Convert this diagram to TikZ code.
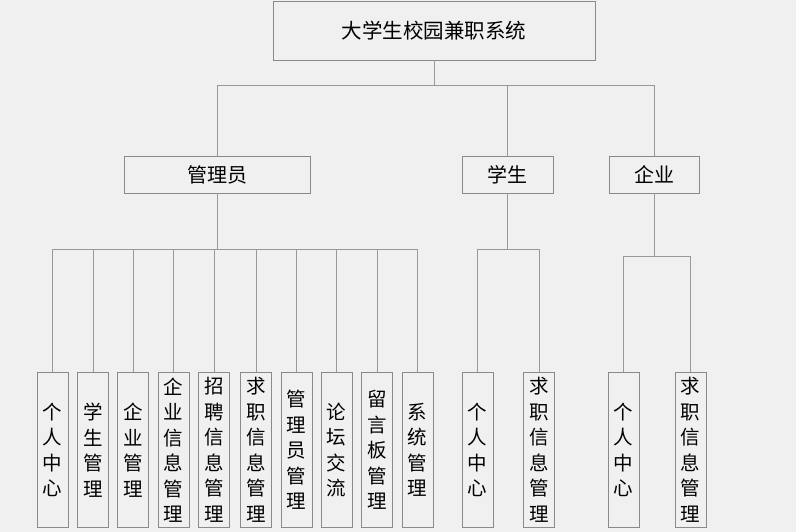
\documentclass[tikz,border=0pt]{standalone}
\usepackage{fontspec}
\setmainfont{Noto Sans CJK SC}
\usepackage{tikz}
\definecolor{boxgray}{HTML}{8A8A8A}
\definecolor{linegray}{HTML}{999999}
\definecolor{paper}{HTML}{F0F0F0}
\tikzset{>=latex,
  box/.style={draw=boxgray,line width=0.9pt,inner sep=0pt,font=\fontsize{20}{24}\selectfont},
  leaf/.style={box,minimum width=31pt,minimum height=155pt,align=center,font=\fontsize{19.5}{25.5}\selectfont},
  link/.style={draw=linegray,line width=0.9pt}}
\begin{document}
\begin{tikzpicture}[x=1pt,y=-1pt]
            \fill[paper,use as bounding box] (0,0) rectangle (796,532);
            \node[box,minimum width=322pt,minimum height=59pt,font=\fontsize{20.5}{24}\selectfont] (root) at (434,30.5){大学生校园兼职系统};
            \node[box,minimum width=186pt,minimum height=37pt] (adm) at (217,174.5){管理员};
            \node[box,minimum width=91pt,minimum height=37pt] (stu) at (507.5,174.5){学生};
            \node[box,minimum width=90pt,minimum height=37pt] (ent) at (654,174.5){企业};
            \coordinate (top) at (434,85);
            \coordinate (busa) at (217,249);
            \coordinate (buss) at (507.5,249);
            \coordinate (buse) at (654,256);
            % admin leaves
            \node[leaf] (a1) at (52.5,450){个\\人\\中\\心};
            \node[leaf] (a2) at (93,450){学\\生\\管\\理};
            \node[leaf] (a3) at (133,450){企\\业\\管\\理};
            \node[leaf] (a4) at (173.5,450){企\\业\\信\\息\\管\\理};
            \node[leaf] (a5) at (214,450){招\\聘\\信\\息\\管\\理};
            \node[leaf] (a6) at (256,450){求\\职\\信\\息\\管\\理};
            \node[leaf] (a7) at (296.5,450){管\\理\\员\\管\\理};
            \node[leaf] (a8) at (336.5,450){论\\坛\\交\\流};
            \node[leaf] (a9) at (377,450){留\\言\\板\\管\\理};
            \node[leaf] (a10) at (417.5,450){系\\统\\管\\理};
            % student and company leaves
            \node[leaf] (s1) at (477.5,450){个\\人\\中\\心};
            \node[leaf] (s2) at (539,450){求\\职\\信\\息\\管\\理};
            \node[leaf] (e1) at (623.5,450){个\\人\\中\\心};
            \node[leaf] (e2) at (690.5,450){求\\职\\信\\息\\管\\理};
            \draw[link] (root) -- (top);
            \draw[link] (top) -| (adm);
            \draw[link] (top) -| (stu);
            \draw[link] (top) -| (ent);
            \draw[link] (adm) -- (busa);
            \draw[link] (busa) -| (a1);
            \draw[link] (busa) -| (a2);
            \draw[link] (busa) -| (a3);
            \draw[link] (busa) -| (a4);
            \draw[link] (busa) -| (a5);
            \draw[link] (busa) -| (a6);
            \draw[link] (busa) -| (a7);
            \draw[link] (busa) -| (a8);
            \draw[link] (busa) -| (a9);
            \draw[link] (busa) -| (a10);
            \draw[link] (stu) -- (buss);
            \draw[link] (buss) -| (s1);
            \draw[link] (buss) -| (s2);
            \draw[link] (ent) -- (buse);
            \draw[link] (buse) -| (e1);
            \draw[link] (buse) -| (e2);
        \end{tikzpicture}
\end{document}
